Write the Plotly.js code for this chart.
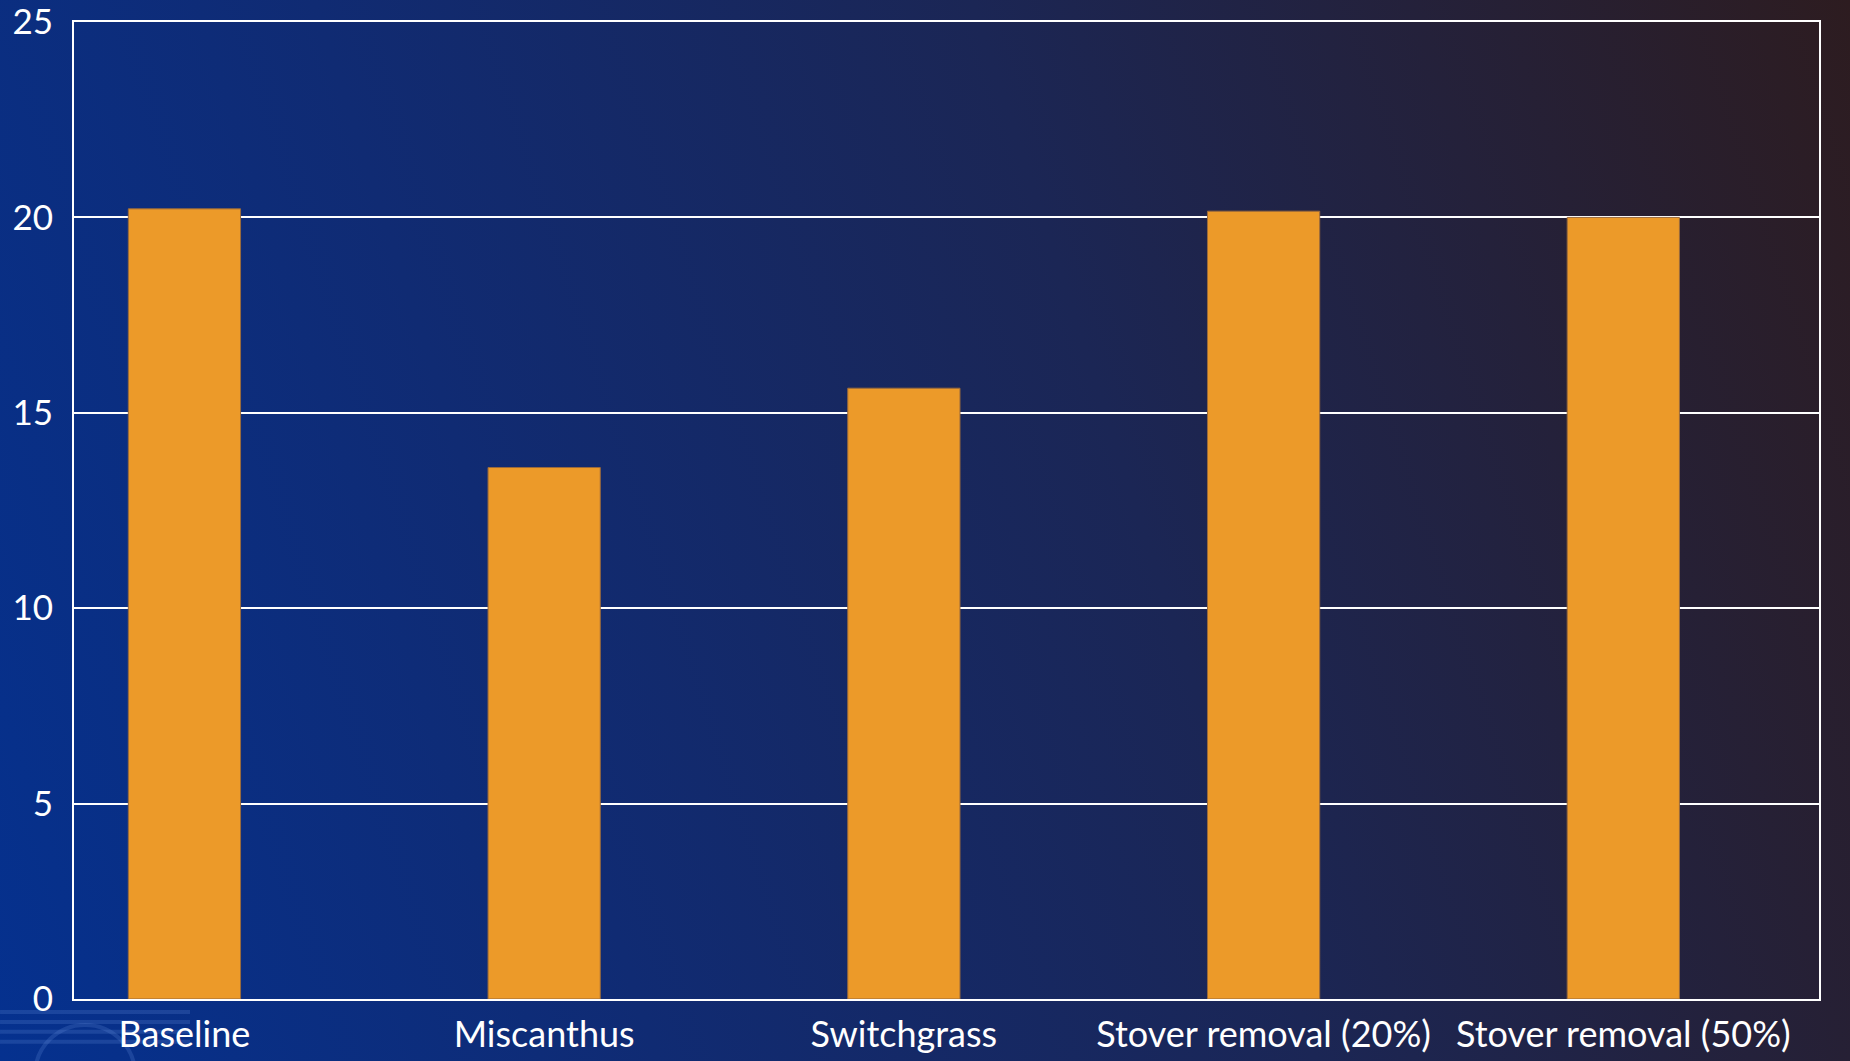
<!DOCTYPE html>
<html>
<head>
<meta charset="utf-8">
<script src="https://cdn.plot.ly/plotly-3.0.1.min.js"></script>
<style>
  html, body { margin: 0; padding: 0; }
  body {
    width: 1850px; height: 1061px; overflow: hidden;
    background: linear-gradient(72deg, #05318f 0%, #102b73 30%, #1b2655 60%, #2d1c20 100%);
  }
  #chart { width: 1850px; height: 1061px; }
</style>
</head>
<body>
<div id="chart"></div>
<script>
// Scenario categories and their values
const categories = [
  "Baseline",
  "Miscanthus",
  "Switchgrass",
  "Stover removal (20%)",
  "Stover removal (50%)"
];
const values = [20.22, 13.6, 15.63, 20.16, 20.0];
const yTicks = [0, 5, 10, 15, 20, 25];

const trace = {
  type: "bar",
  x: categories,
  y: values,
  width: 0.312,
  marker: { color: "#EC9A29", line: { color: "#9a6a3c", width: 1 } },
  hoverinfo: "x+y"
};

// Faint emblem in the lower-left corner (stripes and a globe outline)
const emblemColor = "rgba(105,145,225,0.22)";
const emblemShapes = [-0.0133, -0.0235, -0.0336, -0.0438].map(function (yy) {
  return {
    type: "line", xref: "paper", yref: "paper", layer: "below",
    x0: -0.0424, x1: 0.0665, y0: yy, y1: yy,
    line: { color: emblemColor, width: 4 }
  };
});
emblemShapes.push({
  type: "circle", xref: "paper", yref: "paper", layer: "below",
  x0: -0.0223, x1: 0.035, y0: -0.128, y1: -0.0265,
  line: { color: emblemColor, width: 4 }
});

const layout = {
  width: 1850,
  height: 1061,
  margin: { l: 74, r: 31, t: 22, b: 62 },
  paper_bgcolor: "rgba(0,0,0,0)",
  plot_bgcolor: "rgba(0,0,0,0)",
  font: { family: "Lato, 'Open Sans', sans-serif", color: "#ffffff", size: 36 },
  showlegend: false,
  bargap: 0,
  xaxis: {
    type: "category",
    range: [-0.307, 4.544],
    showgrid: false,
    zeroline: false,
    showline: true,
    mirror: true,
    linecolor: "#ffffff",
    linewidth: 2,
    ticks: "",
    ticklabelstandoff: 3,
    ticklabeloverflow: "allow",
    tickfont: { size: 36, color: "#ffffff" }
  },
  yaxis: {
    range: [0, 25.001],
    tickvals: yTicks,
    ticktext: yTicks.map(String),
    showgrid: true,
    gridcolor: "#ffffff",
    gridwidth: 2,
    zeroline: false,
    showline: true,
    mirror: true,
    linecolor: "#ffffff",
    linewidth: 2,
    ticks: "",
    ticklabelstandoff: 12,
    ticklabeloverflow: "allow",
    tickfont: { size: 35, color: "#ffffff" }
  },
  shapes: emblemShapes
};

Plotly.newPlot("chart", [trace], layout, { displayModeBar: false, staticPlot: true });
</script>
</body>
</html>
